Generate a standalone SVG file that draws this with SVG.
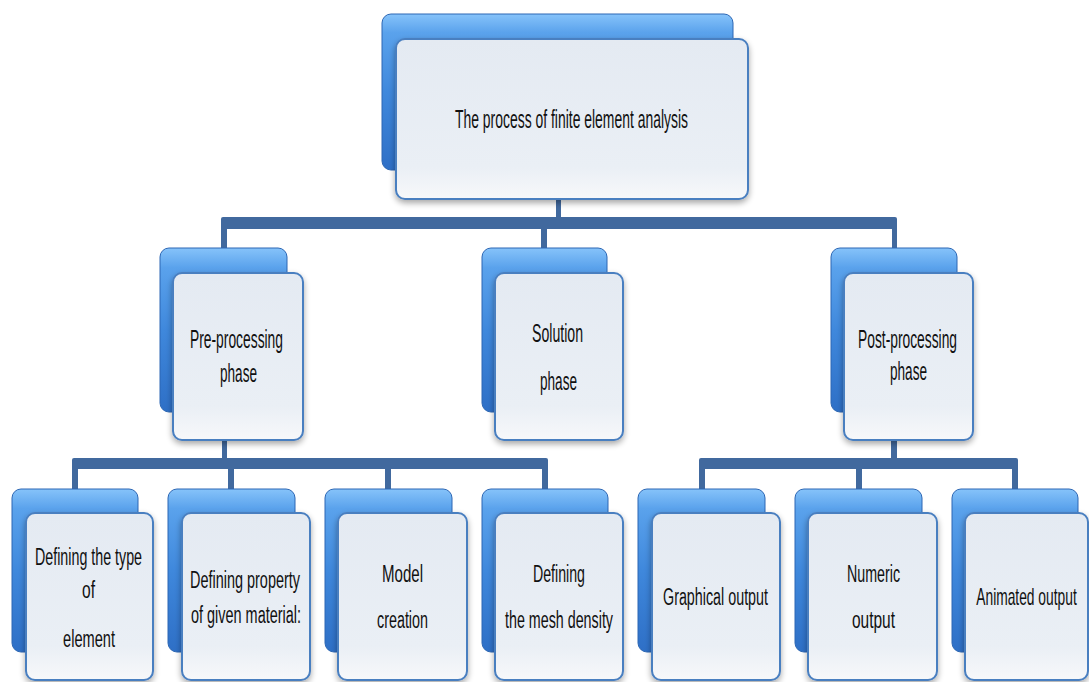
<svg xmlns="http://www.w3.org/2000/svg" width="1089" height="682" viewBox="0 0 1089 682">
<defs>
<linearGradient id="gBack" x1="0" y1="0" x2="0" y2="1">
<stop offset="0" stop-color="#86c3fa"/>
<stop offset="0.12" stop-color="#5aa2ec"/>
<stop offset="0.5" stop-color="#3f88dc"/>
<stop offset="1" stop-color="#2e6fc6"/>
</linearGradient>
<linearGradient id="gFront" x1="0" y1="0" x2="0" y2="1">
<stop offset="0" stop-color="#e4eaf2"/>
<stop offset="0.8" stop-color="#eaeff5"/>
<stop offset="1" stop-color="#f7f8fa"/>
</linearGradient>
<filter id="sh" x="-20%" y="-20%" width="140%" height="150%">
<feGaussianBlur in="SourceAlpha" stdDeviation="3"/>
<feOffset dx="0" dy="3" result="b"/>
<feComponentTransfer><feFuncA type="linear" slope="0.35"/></feComponentTransfer>
<feMerge><feMergeNode/><feMergeNode in="SourceGraphic"/></feMerge>
</filter>
</defs>
<style>
.back{fill:url(#gBack);stroke:#2d67b4;stroke-width:1}
.front{fill:url(#gFront);stroke:#4a7fc0;stroke-width:2;filter:url(#sh)}
.conn{fill:#41699e}
text{font-family:"Liberation Sans",Arial,sans-serif;fill:#111111;text-anchor:middle}
.t1{font-size:26px}
.t2{font-size:25px}
.t3{font-size:23px}
</style>
<rect width="1089" height="682" fill="#ffffff"/>

<g id="connectors">
<rect class="conn" x="556" y="197" width="5" height="22"/>
<rect class="conn" x="221" y="217" width="676" height="12" rx="2"/>
<rect class="conn" x="221" y="227" width="6" height="23"/>
<rect class="conn" x="541" y="227" width="6" height="23"/>
<rect class="conn" x="892" y="227" width="5" height="23"/>

<rect class="conn" x="222" y="438" width="5" height="22"/>
<rect class="conn" x="72" y="458" width="476" height="11" rx="2"/>
<rect class="conn" x="72" y="467" width="6" height="24"/>
<rect class="conn" x="228" y="467" width="6" height="24"/>
<rect class="conn" x="385" y="467" width="6" height="24"/>
<rect class="conn" x="542" y="467" width="6" height="24"/>

<rect class="conn" x="891" y="438" width="6" height="22"/>
<rect class="conn" x="699" y="458" width="319" height="11" rx="2"/>
<rect class="conn" x="699" y="467" width="6" height="24"/>
<rect class="conn" x="856" y="467" width="6" height="24"/>
<rect class="conn" x="1012" y="467" width="6" height="24"/>
</g>

<g id="node-root">
<rect class="back" x="382" y="14" width="351" height="156" rx="9"/>
<rect class="front" x="396" y="39" width="352" height="160" rx="9"/>
<text class="t1" x="571.5" y="128" textLength="233" lengthAdjust="spacingAndGlyphs">The process of finite element analysis</text>
</g>

<g id="node-pre">
<rect class="back" x="160" y="248" width="127" height="164" rx="9"/>
<rect class="front" x="173" y="273" width="130" height="167" rx="9"/>
<text class="t2" x="236.5" y="348" textLength="93" lengthAdjust="spacingAndGlyphs">Pre-processing</text>
<text class="t2" x="238.5" y="382" textLength="37" lengthAdjust="spacingAndGlyphs">phase</text>
</g>

<g id="node-solution">
<rect class="back" x="482" y="248" width="125" height="164" rx="9"/>
<rect class="front" x="495" y="273" width="128" height="167" rx="9"/>
<text class="t2" x="557.5" y="342" textLength="51" lengthAdjust="spacingAndGlyphs">Solution</text>
<text class="t2" x="558.5" y="390" textLength="37" lengthAdjust="spacingAndGlyphs">phase</text>
</g>

<g id="node-post">
<rect class="back" x="831" y="248" width="126" height="164" rx="9"/>
<rect class="front" x="844" y="273" width="129" height="167" rx="9"/>
<text class="t2" x="907.5" y="348" textLength="99" lengthAdjust="spacingAndGlyphs">Post-processing</text>
<text class="t2" x="908.5" y="380" textLength="37" lengthAdjust="spacingAndGlyphs">phase</text>
</g>

<g id="node-type">
<rect class="back" x="12" y="489" width="126" height="163" rx="9"/>
<rect class="front" x="26" y="513" width="127" height="167" rx="9"/>
<text class="t3" x="88.5" y="565" textLength="107" lengthAdjust="spacingAndGlyphs">Defining the type</text>
<text class="t3" x="88.5" y="598" textLength="13" lengthAdjust="spacingAndGlyphs">of</text>
<text class="t3" x="89" y="647" textLength="52" lengthAdjust="spacingAndGlyphs">element</text>
</g>

<g id="node-property">
<rect class="back" x="168" y="489" width="127" height="163" rx="9"/>
<rect class="front" x="182" y="513" width="128" height="167" rx="9"/>
<text class="t3" x="245" y="588" textLength="110" lengthAdjust="spacingAndGlyphs">Defining property</text>
<text class="t3" x="246" y="623" textLength="110" lengthAdjust="spacingAndGlyphs">of given material:</text>
</g>

<g id="node-model">
<rect class="back" x="325" y="489" width="127" height="163" rx="9"/>
<rect class="front" x="338" y="513" width="129" height="167" rx="9"/>
<text class="t3" x="402.5" y="582" textLength="41" lengthAdjust="spacingAndGlyphs">Model</text>
<text class="t3" x="402.5" y="628" textLength="51" lengthAdjust="spacingAndGlyphs">creation</text>
</g>

<g id="node-mesh">
<rect class="back" x="482" y="489" width="126" height="163" rx="9"/>
<rect class="front" x="495" y="513" width="128" height="167" rx="9"/>
<text class="t3" x="559" y="582" textLength="52" lengthAdjust="spacingAndGlyphs">Defining</text>
<text class="t3" x="559" y="628" textLength="108" lengthAdjust="spacingAndGlyphs">the mesh density</text>
</g>

<g id="node-graphical">
<rect class="back" x="638" y="489" width="127" height="163" rx="9"/>
<rect class="front" x="652" y="513" width="128" height="167" rx="9"/>
<text class="t3" x="715.5" y="605" textLength="105" lengthAdjust="spacingAndGlyphs">Graphical output</text>
</g>

<g id="node-numeric">
<rect class="back" x="795" y="489" width="127" height="163" rx="9"/>
<rect class="front" x="808" y="513" width="129" height="167" rx="9"/>
<text class="t3" x="873.5" y="582" textLength="53" lengthAdjust="spacingAndGlyphs">Numeric</text>
<text class="t3" x="873.5" y="628" textLength="43" lengthAdjust="spacingAndGlyphs">output</text>
</g>

<g id="node-animated">
<rect class="back" x="952" y="489" width="126" height="163" rx="9"/>
<rect class="front" x="965" y="513" width="123" height="167" rx="9"/>
<text class="t3" transform="translate(1026.5,605) scale(0.6,1)" x="0" y="0">Animated output</text>
</g>
</svg>
